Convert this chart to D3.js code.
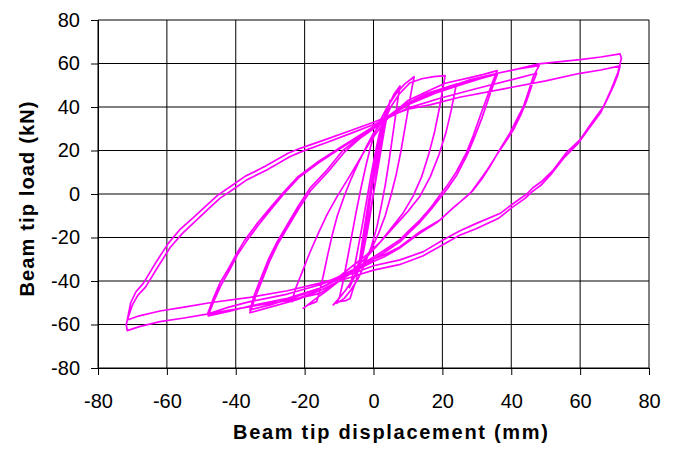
<!DOCTYPE html>
<html><head><meta charset="utf-8">
<script src="https://cdn.jsdelivr.net/npm/d3@7"></script>
<style>
html,body{margin:0;padding:0;background:#fff;}
text{font-family:"Liberation Sans",Arial,sans-serif;}
</style></head>
<body>
<svg id="chart" width="678" height="449"></svg>
<script>
// Tick values
const xTicks = [-80,-60,-40,-20,0,20,40,60,80];
const yTicks = [-80,-60,-40,-20,0,20,40,60,80];
const xTitle = "Beam tip displacement (mm)";
const yTitle = "Beam tip load (kN)";

// Hysteresis record [displacement mm, load kN], in loading order
const elastic = [[0,0],[0.8,9],[1.6,18],[2.4,27],[3.2,34],[3.8,39],[3.2,33],[2.2,22],[1,10],[0,0],[-1,-10],[-2,-19],[-3,-27],[-4,-33],[-5,-38],[-4.2,-32],[-3,-22],[-1.8,-11],[-0.6,1],[0.6,12],[1.8,22],[3,31],[4,38],[4.8,43],[4,37],[2.8,26],[1.5,14],[0.2,2],[-1.2,-10],[-2.6,-21],[-4,-30],[-5.5,-38],[-7,-43]];
const cycle8 = [[-5.8,-36],[-4.5,-25],[-3.2,-14],[-2,-3],[-0.8,8],[0.4,18],[1.6,27],[3,35],[4.5,41],[6,46],[7.7,49.7],[7.2,45],[6.4,36],[5.5,26],[4.5,15],[3.4,4],[2.2,-6],[1,-15],[-0.6,-24],[-2.5,-32],[-4.5,-39],[-6.5,-44],[-8.5,-48],[-10.7,-50.3]];
const cycle12 = [[-9.8,-47],[-8.8,-40],[-7.6,-30],[-6.3,-19],[-5,-8],[-3.6,3],[-2.2,13],[-0.8,22],[0.6,29],[2,34],[4,40],[6.5,46],[9,50.5],[11.8,53.9],[11.2,49],[10.3,41],[9.2,31],[8,20],[6.6,9],[5,-1],[3.4,-10],[1.5,-18],[-0.5,-25],[-3,-32],[-5.5,-38],[-8,-44],[-10,-48],[-11.7,-51],[-11,-50],[-10,-49.5],[-8,-49],[-6.8,-48]];
const cycle24a = [[-6,-44],[-5,-39.5],[-4,-30],[-3,-19],[-1.8,-7],[-0.6,5],[0.6,16],[1.8,26],[3,33],[5,40],[7.5,46],[10.5,51],[14,53],[17.5,54],[20.8,54.4],[20.2,49],[19.2,40],[17.8,29],[16,18],[14,8],[11.5,-1],[8.5,-9],[5,-16],[1.5,-23],[-2,-29],[-6,-35],[-10,-40],[-14,-45],[-17.5,-49],[-20.4,-52.6],[-19,-51],[-16.5,-49.5]];
const cycle24b = [[-15.5,-44],[-14.5,-37],[-13.3,-28],[-12,-19],[-10.5,-10],[-8.5,-1],[-6.5,7],[-4.5,14],[-2,22],[0,28],[2,32],[4,35.5],[8,40],[12,43.5],[16,46.5],[20,48.5],[24.1,50.6],[23.5,46],[22.5,38],[21,28],[19,18],[16.5,8],[13.5,-1],[10,-8],[6,-15],[2,-22],[-2,-28],[-6,-33],[-10,-38],[-14,-42],[-18,-45.5],[-21,-47.5],[-23.8,-49.5]];
const cycle36a = [[-22.5,-43],[-20.5,-35],[-18.5,-27],[-16,-18],[-13.5,-9.5],[-10.5,-1],[-7,8],[-4,16],[-1,24],[1.5,29.5],[4,34.5],[10,43],[16,47.5],[20.8,50.9],[28,53.5],[32,55],[35.9,56.7],[34,49],[31,36],[29,27],[27,19],[24,10],[21.2,3.4],[19.3,-0.5],[16.5,-6.5],[13.5,-12],[10.5,-16.5],[7.7,-21],[3,-26],[0,-29],[-5,-34],[-10,-38.5],[-15,-43],[-22,-47],[-30,-51],[-35.9,-53.3]];
const cycle36b = [[-34.5,-46],[-32.5,-38],[-30.5,-30],[-28,-22],[-25,-14],[-22,-6],[-18.5,2.6],[-13.5,11],[-8.8,20.2],[-4,26],[0,30],[3,34],[10,42],[16.4,45.5],[25,50],[31,53],[36,55.2],[34.3,48],[31.5,35],[29.3,26],[27.2,18],[24.3,9],[21.5,2.5],[19.5,-1.5],[16.5,-7.5],[13.5,-13],[10.5,-17.5],[7.7,-22],[3,-27],[0,-30],[-5,-35],[-10,-40],[-15,-44],[-22,-48.5],[-30,-52],[-35.9,-54.6]];
const cycle48a = [[-34.2,-47],[-32.2,-39],[-30.2,-31],[-27.8,-23],[-24.8,-15],[-21.8,-7],[-18.3,1.5],[-13.3,10],[-8.6,19],[-4,25.5],[0,30],[3,34],[10,42],[19.3,47.8],[28,52.5],[36,55.5],[42,57.5],[48.1,59],[46.4,54],[45,47],[43.5,40],[41.5,34],[39.6,28],[36.5,20],[33.8,12.6],[31.5,7],[29,1.8],[27,-1.2],[23,-6.5],[19.3,-12],[13.5,-17.3],[7.7,-24.2],[3,-28],[0,-30],[-5,-34],[-10,-38],[-15,-41.5],[-25,-46],[-35.9,-49.5],[-42,-52],[-48.2,-55.2]];
const cycle48b = [[-46.5,-48],[-44.6,-41],[-42,-34],[-39.7,-27.3],[-37.3,-21],[-33.5,-13],[-29.7,-5.8],[-26,1],[-21.9,8],[-16,15],[-10,21],[-5,26],[0,31],[3,34],[10,39.5],[19.3,44],[30,48.5],[40,52.5],[47.4,55.5],[46,50],[44.5,43],[42.8,36.5],[40.8,30],[38.8,25],[35.8,18],[33,11],[30.5,5.5],[28.2,0.5],[26,-2.5],[22,-8],[18.5,-13],[13,-18.5],[7.5,-25],[3,-29],[0,-31],[-5,-35],[-10,-39],[-15,-43],[-25,-48],[-35.9,-51.5],[-42,-54],[-48,-56]];
const cycle72a = [[-46.3,-49],[-44.3,-42],[-41.8,-35],[-39.5,-28],[-37,-22],[-33.3,-14],[-29.5,-6.5],[-25.8,0.5],[-21.7,7.5],[-15.8,14.5],[-10,20.5],[-5,25.5],[0,30.5],[3,34],[10,41],[19,47],[28,52],[36,55.5],[42,57.5],[48,59.8],[55,61],[60,61.8],[66,63],[71.6,64.4],[72,62.5],[71,56],[69,48],[66.7,40],[63,32],[60,25],[56,19],[52.2,11],[49,6],[46.4,3],[44.5,0],[40.5,-4.5],[36.7,-9],[29.9,-13.5],[25,-17],[20.3,-21],[14.5,-26.5],[7.7,-30.3],[0,-33],[-5,-36],[-10,-38.5],[-15.5,-41],[-25,-44.5],[-35.9,-47.5],[-47.5,-50],[-55,-52],[-62,-53.8],[-68,-56],[-71.5,-57.9]];
const cycle72b = [[-70.5,-50],[-69,-45],[-66.8,-41],[-63,-31],[-59.6,-22.7],[-56,-16],[-52,-10.4],[-48,-4.5],[-45.2,-0.5],[-41,4],[-37.4,8],[-31.6,12.6],[-24.8,18.7],[-21.3,21],[-14,25],[-7,29],[0.4,33.2],[4,35.5],[10,39],[16.4,41],[25,44.5],[38.6,48.6],[50,52],[60,55.5],[66,57],[71.6,58.9],[71,55],[69.8,50],[68,44],[66,37.5],[62.5,30],[59.3,23],[55.5,17],[51.8,9.5],[48.6,4],[46,1],[44,-2],[40,-6.5],[36.5,-11],[29.8,-16],[25,-19],[20,-23.5],[14.3,-28.5],[7.5,-32.5],[0,-35],[-5,-37.5],[-10,-40],[-15.5,-45.7],[-25,-49],[-35.9,-51.8],[-47.5,-55],[-55,-57],[-62,-58.7],[-68,-61],[-71.5,-62.8]];
const finalReload = [[-71.8,-60],[-71.3,-57],[-70,-51],[-68.4,-46.5],[-66.2,-42.8],[-62.4,-33],[-59,-24.5],[-55.4,-18],[-51.4,-12],[-47.4,-6],[-44.6,-2],[-40.4,2.5],[-36.8,6.5],[-31,11],[-24.2,17.2],[-20.7,19.6],[-13.4,23.8],[-6.4,28],[0.8,32.4],[4,35]];

const record = [].concat(elastic, cycle8, cycle12, cycle24a, cycle24b, cycle36a, cycle36b, cycle48a, cycle48b, cycle72a, cycle72b, finalReload);

const svg = d3.select("#chart");
const W = 678, H = 449;
svg.append("rect").attr("width", W).attr("height", H).attr("fill", "#fff");

const x = d3.scaleLinear().domain([-80, 80]).range([98, 649]);
const y = d3.scaleLinear().domain([-80, 80]).range([368, 20]);

// grid
const grid = svg.append("g").attr("stroke", "#000").attr("stroke-width", 1);
grid.selectAll("line.v").data(xTicks).join("line").attr("class", "v")
  .attr("x1", d => x(d)).attr("x2", d => x(d)).attr("y1", y(80)).attr("y2", y(-80));
grid.selectAll("line.h").data(yTicks).join("line").attr("class", "h")
  .attr("y1", d => y(d)).attr("y2", d => y(d)).attr("x1", x(-80)).attr("x2", x(80));

// axes (hyphen-minus labels as in the reference)
const fmt = d => String(d);
const yAxis = svg.append("g").attr("transform", `translate(${x(-80)},0)`)
  .call(d3.axisLeft(y).tickValues(yTicks).tickFormat(fmt).tickSize(7).tickPadding(11).tickSizeOuter(0));
const xAxis = svg.append("g").attr("transform", `translate(0,${y(-80)})`)
  .call(d3.axisBottom(x).tickValues(xTicks).tickFormat(fmt).tickSize(7).tickPadding(19).tickSizeOuter(0));
[xAxis, yAxis].forEach(g => {
  g.select(".domain").attr("stroke", "#000");
  g.selectAll(".tick line").attr("stroke", "#000");
  g.selectAll(".tick text").attr("fill", "#000").style("font-size", "20px")
    .style("font-family", '"Liberation Sans", Arial, sans-serif');
});

// curve
const line = d3.line().x(d => x(d[0])).y(d => y(d[1])).curve(d3.curveLinear);
svg.append("path").datum(record).attr("d", line)
  .attr("fill", "none").attr("stroke", "#ff00ff").attr("stroke-width", 1.7)
  .attr("stroke-linejoin", "round");

// titles
svg.append("text").attr("x", 390.5).attr("y", 439).attr("text-anchor", "middle")
  .attr("textLength", 315).attr("lengthAdjust", "spacing")
  .style("font-size", "20px").style("font-weight", "bold").text(xTitle);
svg.append("text").attr("transform", "translate(34,199) rotate(-90)").attr("text-anchor", "middle")
  .attr("textLength", 195).attr("lengthAdjust", "spacing")
  .style("font-size", "20px").style("font-weight", "bold").text(yTitle);
</script>
</body></html>
